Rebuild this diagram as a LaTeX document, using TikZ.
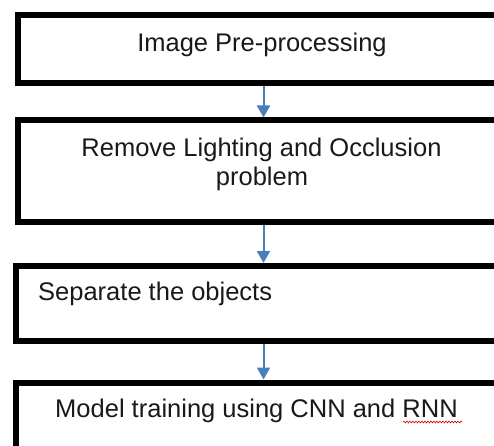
\documentclass[tikz,border=0pt]{standalone}
\usepackage{fontspec}
\setmainfont{Liberation Sans}
\usetikzlibrary{arrows.meta,decorations.pathmorphing}
\definecolor{arrowblue}{HTML}{4A7EBB}
\begin{document}
\begin{tikzpicture}[x=1pt,y=1pt,
  box/.style={draw=black,line width=6pt,rectangle,inner sep=0pt,fill=white},
  lbl/.style={inner sep=0pt,font=\fontsize{25.5}{28}\selectfont,text=black!90},
  flow/.style={draw=arrowblue,line width=2pt,-{Triangle[width=13pt,length=12pt]}}]
\useasboundingbox (0,0) rectangle (494,445);
\clip (0,0) rectangle (494,445);
\fill[white] (0,0) rectangle (494,445);
% boxes
\node[box,minimum width=491pt,minimum height=67.7pt] (b1) at (263.5,396.2) {};
\node[box,minimum width=491pt,minimum height=101pt] (b2) at (263.5,274) {};
\node[box,minimum width=493pt,minimum height=74.5pt] (b3) at (262.5,141.75) {};
\node[box,minimum width=493pt,minimum height=82.5pt] (b4) at (262.5,21.25) {};
% texts
\node[lbl,anchor=base] (t1) at (262,393) {Image Pre-processing};
\node[lbl,anchor=base] (t2) at (261.5,288) {Remove Lighting and Occlusion};
\node[lbl,anchor=base] (t2b) at (262,260) {problem};
\node[lbl,anchor=base west] (t3) at (38,145) {Separate the objects};
\node[lbl,anchor=base] (t4) at (256.5,28) {Model training using CNN and RNN};
% spell-check squiggle
\coordinate (sq1) at (403,23);
\coordinate (sq2) at (462,23);
\draw[red!80!black,line width=0.6pt,decorate,decoration={snake,amplitude=0.9pt,segment length=3pt}] (sq1) -- (sq2);
% connectors
\draw[flow] (b1.south -| 263.5,0) -- (b2.north -| 263.5,0);
\draw[flow] (b2.south -| 263.5,0) -- (b3.north -| 263.5,0);
\draw[flow] (b3.south -| 263.5,0) -- (b4.north -| 263.5,0);
\end{tikzpicture}
\end{document}
